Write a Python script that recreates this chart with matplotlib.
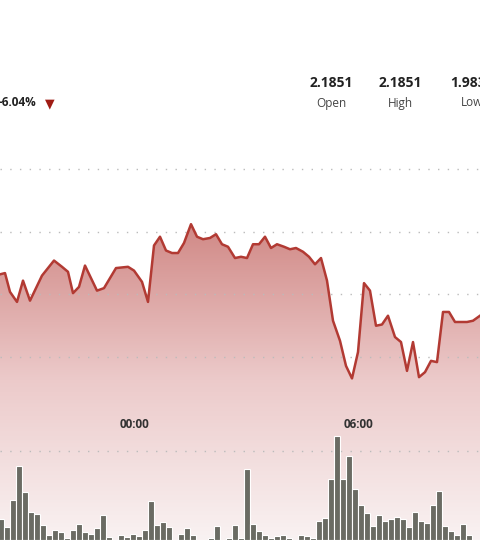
import matplotlib.pyplot as plt
import numpy as np
from matplotlib.colors import LinearSegmentedColormap

# price readings (time position in px-minutes, price)
times = [0, 5, 10, 17, 23, 30, 42, 54, 62, 68, 73, 79, 85, 97, 104, 116, 128, 134,
         142, 148, 154, 160, 166, 172, 178, 184, 191, 197, 203, 210, 216, 222, 228,
         235, 241, 247, 253, 259, 265, 271, 277, 284, 290, 296, 303, 309, 315, 321,
         327, 333, 340, 346, 352, 358, 364, 370, 376, 382, 388, 395, 401, 407, 413,
         419, 425, 431, 437, 443, 449, 455, 461, 467, 473, 480]
prices = [2.066, 2.067, 2.052, 2.044, 2.061, 2.045, 2.065, 2.077, 2.072, 2.068,
          2.051, 2.056, 2.073, 2.053, 2.055, 2.071, 2.072, 2.069, 2.060, 2.044,
          2.089, 2.096, 2.085, 2.083, 2.083, 2.091, 2.106, 2.096, 2.094, 2.095,
          2.098, 2.090, 2.088, 2.079, 2.080, 2.079, 2.090, 2.090, 2.096, 2.087,
          2.090, 2.088, 2.086, 2.087, 2.084, 2.080, 2.074, 2.079, 2.061, 2.029,
          2.013, 1.993, 1.983, 2.004, 2.059, 2.053, 2.025, 2.026, 2.033, 2.016,
          2.012, 1.989, 2.012, 1.984, 1.988, 1.997, 1.996, 2.036, 2.036, 2.028,
          2.028, 2.028, 2.029, 2.033]
volumes = [21, 13, 40, 74, 48, 28, 26, 15, 5, 10, 8, 2, 10, 16, 8, 6, 12, 25, 3, 0,
           5, 3, 6, 4, 10, 39, 15, 18, 13, 0, 6, 12, 5, 0, 0, 2, 14, 0, 2, 15,
           2, 71, 16, 9, 5, 2, 4, 5, 2, 0, 5, 4, 2, 19, 22, 61, 104, 61, 84, 51,
           35, 27, 14, 25, 19, 21, 23, 21, 13, 28, 19, 17, 35, 49, 14, 9, 5, 16, 5, 0]
price_grid = [2.15, 2.10, 2.05, 2.00, 1.925]
time_ticks = ["00:00", "06:00"]
time_pos = [135, 358]
stats = [("2.1851", "Open"), ("2.1851", "High"), ("1.9831", "Low")]

line_col = "#b23a33"
fig = plt.figure(figsize=(4.8, 5.4), dpi=100)
ax = fig.add_axes([0, 0, 1, 1])
ybot, ytop = 2.15 - 371 / 1254, 2.15 + 169 / 1254
ax.set_xlim(0, 480)
ax.set_ylim(ybot, ytop)
ax.axis("off")

poly = ax.fill_between(times, prices, ybot, color="none")
cmap = LinearSegmentedColormap.from_list("g", ["#f9f2f2", "#eccaca", "#d08784"])
img = ax.imshow(np.linspace(0, 1, 256).reshape(-1, 1), cmap=cmap, aspect="auto",
                extent=[0, 480, ybot, 2.11], origin="lower", zorder=1)
img.set_clip_path(poly.get_paths()[0], transform=ax.transData)
for g in price_grid:
    ax.axhline(g, color="#bbbbbb", lw=1, ls=(0, (1, 6)), zorder=2)
ax.plot(times, prices, color=line_col, lw=1.8, zorder=4)

vax = fig.add_axes([0, 0, 1, 1])
vax.set_xlim(0, 480)
vax.set_ylim(0, 540)
vax.axis("off")
vx = np.arange(len(volumes)) * 6.0 + 0.5
vax.bar(vx, volumes, width=6, color="#6a6b63", edgecolor="white", lw=0.8, zorder=5)

for t, p in zip(time_ticks, time_pos):
    fig.text(p / 480, 1 - 424 / 540, t, ha="center", va="center",
             fontsize=8.5, fontweight="bold", color="#333333", family="Open Sans")
fig.text(36 / 480, 1 - 103 / 540, "-6.04%", ha="right", va="center",
         fontsize=8.5, fontweight="bold", color="#222222", family="Open Sans")
fig.text(50 / 480, 1 - 104 / 540, "▼", ha="center", va="center",
         fontsize=9, color="#a01c14")
for (val, lab), cx in zip(stats, [331, 400, 472]):
    fig.text(cx / 480, 1 - 83 / 540, val, ha="center", va="center",
             fontsize=10, fontweight="bold", color="#222222", family="Open Sans")
    fig.text(cx / 480, 1 - 103 / 540, lab, ha="center", va="center",
             fontsize=8.5, color="#444444", family="Open Sans")

fig.savefig("out.png", dpi=100)
